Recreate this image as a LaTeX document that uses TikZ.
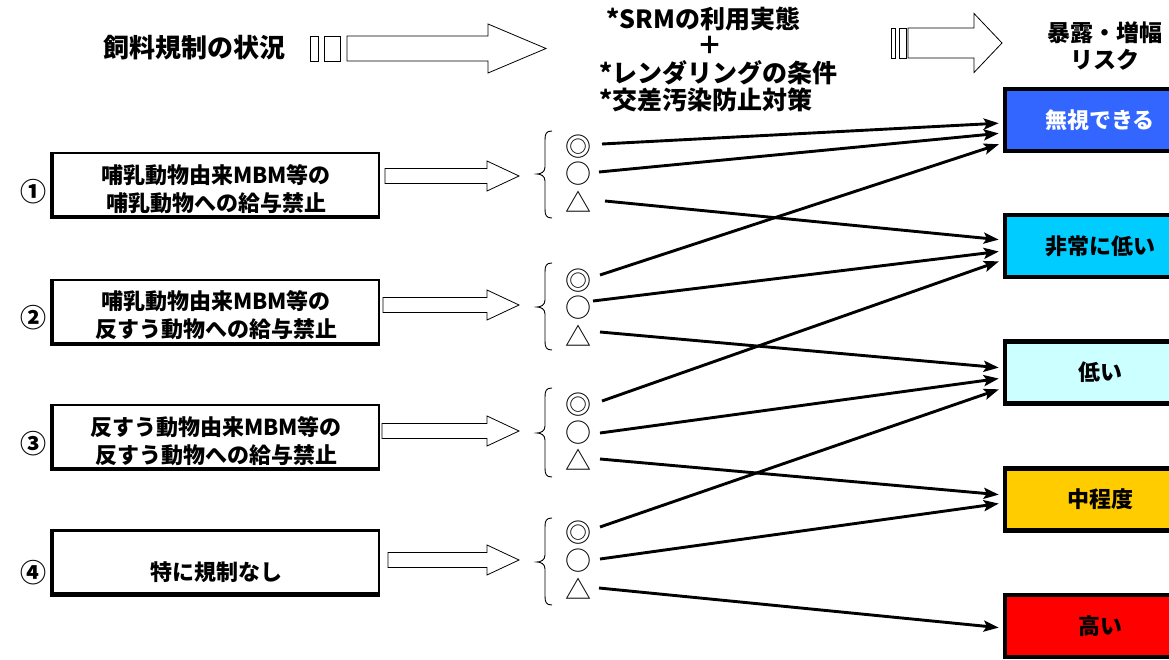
\documentclass[tikz,border=0pt]{standalone}
\usepackage{fontspec}
\newfontfamily\jp{Noto Sans CJK JP}
\usetikzlibrary{arrows.meta,calc}
\definecolor{rblue}{HTML}{3366FF}
\definecolor{rcyan}{HTML}{00CCFF}
\definecolor{rlight}{HTML}{CCFFFF}
\definecolor{rgold}{HTML}{FFCC00}
\definecolor{rred}{HTML}{FF0000}
\newcommand\blkarrow[6]{\draw[blockarrow] (#1,#4-#5) -- (#2,#4-#5) -- (#2,#4-#6) -- (#3,#4) -- (#2,#4+#6) -- (#2,#4+#5) -- (#1,#4+#5) -- cycle;}
\newcommand\brc[3]{\draw[bracepath] (552,#1) .. controls (546,#1) and (545,#1+3) .. (545,#1+9) -- (545,#3-7) .. controls (545,#3-2) and (541,#3) .. (537,#3) .. controls (541,#3) and (545,#3+2) .. (545,#3+7) -- (545,#2-9) .. controls (545,#2-3) and (546,#2) .. (552,#2);}
\tikzset{
  blockarrow/.style={draw, line width=0.8pt, fill=white},
  bracepath/.style={line width=0.9pt},
  lbox/.style={draw, line width=2.2pt, minimum width=326pt, minimum height=63pt, inner sep=0pt},
  ltext/.style={font=\jp\bfseries\fontsize{22}{28}\selectfont, align=center, inner sep=0pt},
  head/.style={font=\jp\bfseries\fontsize{25}{27}\selectfont, inner sep=0pt},
  numlab/.style={font=\jp\bfseries\fontsize{26}{28}\selectfont, inner sep=0pt},
  risk/.style={draw, line width=4.5pt, minimum width=190pt, minimum height=62pt, inner sep=0pt, font=\jp\bfseries\fontsize{22}{24}\selectfont},
  sym/.style={font=\jp\fontsize{26}{26}\selectfont, inner sep=0pt},
  conn/.style={-{Stealth[length=15pt,width=11pt,inset=3pt]}, line width=2.9pt, shorten >=4pt}
}
\begin{document}
\begin{tikzpicture}[x=1pt,y=-1pt]
\clip (0,0) rectangle (1169,660);
\fill[white] (0,0) rectangle (1169,660);

% headings
\node[head, font=\jp\bfseries\fontsize{26}{28}\selectfont] (title) at (194,48) {飼料規制の状況};
\node[head, anchor=west] (m1) at (606,19) {*SRMの利用実態};
\node[head] (m2) at (710,45) {＋};
\node[head, anchor=west] (m3) at (599,73) {*レンダリングの条件};
\node[head, anchor=west] (m4) at (599,100) {*交差汚染防止対策};
\node[head, font=\jp\bfseries\fontsize{23}{25}\selectfont] (h1) at (1105,33) {暴露・増幅};
\node[head, font=\jp\bfseries\fontsize{23}{25}\selectfont] (h2) at (1105,60) {リスク};

% top block arrows
\draw[blockarrow] (310,36) rectangle (318,61);
\draw[blockarrow] (324,36) rectangle (340,61);
\blkarrow{347}{488}{546}{48.5}{12.5}{24.5}
\draw[blockarrow] (891,28) rectangle (895,58);
\draw[blockarrow] (899,28) rectangle (906,58);
\blkarrow{908}{974}{1002}{43}{15}{29.5}

% numbers
\node[numlab] (n1) at (33,192) {①};
\node[numlab] (n2) at (33,318) {②};
\node[numlab] (n3) at (33,444) {③};
\node[numlab] (n4) at (33,573) {④};

% left boxes
\node[lbox] (b1) at (216,184.5) {};
\node[lbox] (b2) at (216,311.5) {};
\node[lbox] (b3) at (216,436.5) {};
\node[lbox] (b4) at (216,562) {};
\foreach \b in {b1,b2,b3,b4}{\draw[line width=4pt] (\b.north west) -- (\b.south west) -- (\b.south east);}
\node[ltext] (t1) at ([yshift=-5pt]b1.center) {哺乳動物由来MBM等の\\哺乳動物への給与禁止};
\node[ltext] (t2) at ([yshift=-4pt]b2.center) {哺乳動物由来MBM等の\\反すう動物への給与禁止};
\node[ltext] (t3) at ([yshift=-5pt]b3.center) {反すう動物由来MBM等の\\反すう動物への給与禁止};
\node[ltext] (t4) at ([yshift=-10pt]b4.center) {特に規制なし};

% small block arrows
\blkarrow{385}{487}{519}{176}{7.5}{15}
\blkarrow{383}{487}{519}{305}{7.5}{15}
\blkarrow{382}{487}{519}{431}{7.5}{15}
\blkarrow{388}{487}{519}{560}{7.5}{15}

% braces
\brc{131}{218}{174}
\brc{263}{350}{307}
\brc{388}{477}{433}
\brc{518}{605}{562}

% symbols
\node[sym] (g1a) at (578,147) {◎};
\node[sym] (g1b) at (578,174) {○};
\node[sym] (g1c) at (578,202) {△};
\node[sym] (g2a) at (578,281) {◎};
\node[sym] (g2b) at (578,308) {○};
\node[sym] (g2c) at (578,336) {△};
\node[sym] (g3a) at (578,405) {◎};
\node[sym] (g3b) at (578,433) {○};
\node[sym] (g3c) at (578,460) {△};
\node[sym] (g4a) at (578,533) {◎};
\node[sym] (g4b) at (578,561) {○};
\node[sym] (g4c) at (578,589) {△};

% risk boxes
\node[risk, fill=rblue, text=white] (r1) at (1100,120) {無視できる};
\node[risk, fill=rcyan] (r2) at (1100,246) {非常に低い};
\node[risk, fill=rlight] (r3) at (1100,372.5) {低い};
\node[risk, fill=rgold] (r4) at (1100,499.5) {中程度};
\node[risk, fill=rred] (r5) at (1100,626) {高い};

% connectors
\draw[conn] ([xshift=24pt,yshift=3pt]g1a.center) -- ([yshift=-3pt]r1.west);
\draw[conn] ([xshift=21pt,yshift=2pt]g1b.center) -- ([yshift=-13pt]r1.west);
\draw[conn] ([xshift=27pt,yshift=1pt]g1c.center) -- ([yshift=6pt]r2.west);
\draw[conn] ([xshift=22pt,yshift=6pt]g2a.center) -- ([yshift=-23pt]r1.west);
\draw[conn] ([xshift=15pt,yshift=7pt]g2b.center) -- ([yshift=-5pt]r2.west);
\draw[conn] ([xshift=22pt,yshift=4pt]g2c.center) -- ([yshift=4.5pt]r3.west);
\draw[conn] ([xshift=24pt,yshift=4pt]g3a.center) -- ([yshift=-14pt]r2.west);
\draw[conn] ([xshift=22pt]g3b.center) -- ([yshift=-5.5pt]r3.west);
\draw[conn] ([xshift=22pt,yshift=1pt]g3c.center) -- ([yshift=4.5pt]r4.west);
\draw[conn] ([xshift=22pt,yshift=6pt]g4a.center) -- ([yshift=-15.5pt]r3.west);
\draw[conn] ([xshift=22pt,yshift=2pt]g4b.center) -- ([yshift=-3.5pt]r4.west);
\draw[conn] ([xshift=21pt,yshift=1pt]g4c.center) -- ([yshift=-2pt]r5.west);
\end{tikzpicture}
\end{document}
